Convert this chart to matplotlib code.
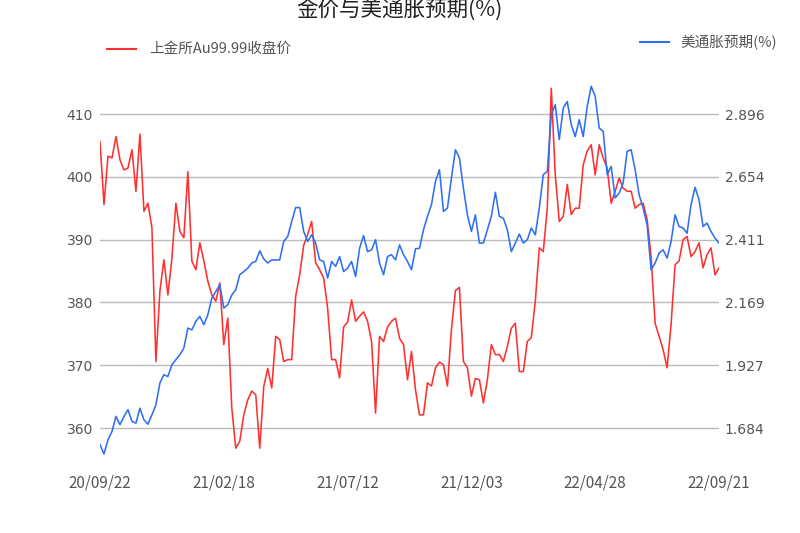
import matplotlib
matplotlib.use("Agg")
import matplotlib.pyplot as plt
from matplotlib.lines import Line2D
import numpy as np

# ---- data ----
gold_price = [
    405.6, 395.6, 403.3, 403.0, 406.4, 402.7, 401.1, 401.4, 404.3, 397.7,
    406.8, 394.5, 395.8, 391.9, 370.6, 381.8, 386.8, 381.2, 387.0, 395.8,
    391.3, 390.3, 400.8, 386.6, 385.2, 389.5, 386.6, 383.4, 381.2, 380.2,
    383.1, 373.3, 377.5, 363.2, 356.8, 357.9, 362.1, 364.5, 365.9,
    365.3, 356.8, 366.6, 369.5, 366.4, 374.6, 374.1, 370.6, 370.9, 370.9,
    381.0, 384.4, 389.1, 390.8, 392.9, 386.3, 385.2, 383.9, 379.1, 370.9,
    370.9, 368.0, 376.1, 376.9, 380.4, 377.0, 377.8, 378.5, 377.0, 373.8,
    362.4, 374.6, 373.8, 376.1, 377.0, 377.5, 374.3, 373.3,
    367.7, 372.2, 366.1, 362.1, 362.1, 367.2, 366.7, 369.6, 370.5, 370.1,
    366.7, 375.7, 381.9, 382.4, 370.6, 369.6, 365.1, 367.9, 367.7, 364.0,
    367.7, 373.3, 371.7, 371.7, 370.6, 373.0, 375.9, 376.7, 369.0, 369.0,
    373.8, 374.4, 380.2, 388.7, 388.1, 395.0, 414.1, 400.3, 392.9, 393.7,
    398.8, 394.0, 395.0, 395.0, 401.9, 404.1, 405.1, 400.3, 405.1, 403.0,
    401.4, 395.8, 397.7, 399.8, 398.2, 397.7, 397.7, 395.0, 395.6, 395.8,
    393.2, 387.3, 376.7, 374.6, 372.5, 369.6, 376.5, 386.0, 386.6, 390.0,
    390.5, 387.3, 388.1, 389.5, 385.5, 387.6, 388.7, 384.4, 385.5,
]

inflation_exp = [
    1.620, 1.584, 1.639, 1.671, 1.729, 1.697, 1.729, 1.755, 1.710, 1.703,
    1.761, 1.716, 1.699, 1.735, 1.774, 1.858, 1.890, 1.883, 1.928, 1.948,
    1.967, 1.993, 2.070, 2.063, 2.096, 2.115, 2.083, 2.121, 2.186, 2.211,
    2.237, 2.147, 2.160, 2.198, 2.218, 2.276, 2.288, 2.301, 2.321,
    2.327, 2.368, 2.337, 2.321, 2.333, 2.333, 2.333, 2.404, 2.423, 2.481,
    2.535, 2.535, 2.443, 2.404, 2.430, 2.398, 2.333, 2.327, 2.263, 2.327,
    2.308, 2.346, 2.288, 2.301, 2.327, 2.269, 2.378, 2.427, 2.365, 2.372,
    2.411, 2.321, 2.276, 2.346, 2.353, 2.333, 2.391, 2.353,
    2.327, 2.295, 2.376, 2.378, 2.449, 2.501, 2.546, 2.636, 2.681, 2.520,
    2.533, 2.649, 2.758, 2.726, 2.610, 2.507, 2.443, 2.507, 2.398, 2.398,
    2.449, 2.501, 2.594, 2.501, 2.494, 2.449, 2.365, 2.398, 2.433, 2.398,
    2.411, 2.456, 2.430, 2.533, 2.662, 2.674, 2.893, 2.932, 2.797, 2.919,
    2.944, 2.855, 2.809, 2.874, 2.809, 2.925, 3.003, 2.964, 2.842, 2.829,
    2.662, 2.694, 2.572, 2.591, 2.630, 2.752, 2.758, 2.681, 2.584, 2.533,
    2.468, 2.295, 2.321, 2.359, 2.372, 2.340, 2.404, 2.507, 2.462, 2.456,
    2.436, 2.546, 2.613, 2.565, 2.462, 2.475, 2.443, 2.417, 2.398,
]

x_tick_labels = ["20/09/22", "21/02/18", "21/07/12", "21/12/03", "22/04/28", "22/09/21"]
x_tick_index = [0, 31, 62, 93, 124, 155]
left_ticks = [360, 370, 380, 390, 400, 410]
right_ticks = [1.684, 1.927, 2.169, 2.411, 2.654, 2.896]

title = "金价与美通胀预期(%)"
name_gold = "上金所Au99.99收盘价"
name_infl = "美通胀预期(%)"

RED = "#ff3030"
BLUE = "#2f6ff2"
CJK = ["Noto Sans CJK SC", "DejaVu Sans"]

W, H = 800, 533
fig = plt.figure(figsize=(W / 100, H / 100), dpi=100)
L, R, T, B = 100, 719, 82.6, 459.5
ax = fig.add_axes([L / W, 1 - B / H, (R - L) / W, (B - T) / H])
ax2 = ax.twinx()

x = np.arange(len(gold_price))
ax.plot(x, gold_price, color=RED, lw=1.15, zorder=3)
ax2.plot(x, inflation_exp, color=BLUE, lw=1.15, zorder=3)

ax.set_xlim(0, len(gold_price) - 1)
ax.set_ylim(355, 415)
ax2.set_ylim(1.684 - 0.2424 / 2, 2.896 + 0.2424 / 2)

ax.set_yticks(left_ticks)
ax.set_yticklabels([str(v) for v in left_ticks])
ax2.set_yticks(right_ticks)
ax2.set_yticklabels([f"{v:.3f}" for v in right_ticks])
ax.set_xticks(x_tick_index)
ax.set_xticklabels(x_tick_labels, family=CJK, fontsize=11, color="#555555")

ax.grid(axis="y", color="#bbbbbb", lw=1.0)
ax.set_axisbelow(True)
for a in (ax, ax2):
    for s in a.spines.values():
        s.set_visible(False)
ax.tick_params(axis="y", length=0, pad=5, labelsize=10, labelcolor="#555555")
ax2.tick_params(axis="y", length=0, pad=4, labelsize=10, labelcolor="#555555")
ax.tick_params(axis="x", length=0, pad=11)
for lab in ax.get_yticklabels() + ax2.get_yticklabels():
    lab.set_family("DejaVu Sans")

# title
fig.text(0.5, 1 - 10 / H, title, ha="center", va="center", fontsize=15.5,
         family=CJK, color="#222222")

# legends
fig.add_artist(Line2D([107 / W, 136 / W], [1 - 49 / H, 1 - 49 / H], color=RED, lw=1.5))
fig.text(149 / W, 1 - 49 / H, name_gold, ha="left", va="center", fontsize=10.5,
         family=CJK, color="#555555")
fig.add_artist(Line2D([640 / W, 669 / W], [1 - 42 / H, 1 - 42 / H], color=BLUE, lw=1.5))
fig.text(680 / W, 1 - 42 / H, name_infl, ha="left", va="center", fontsize=10.5,
         family=CJK, color="#555555")

fig.savefig("out.png", dpi=100)
